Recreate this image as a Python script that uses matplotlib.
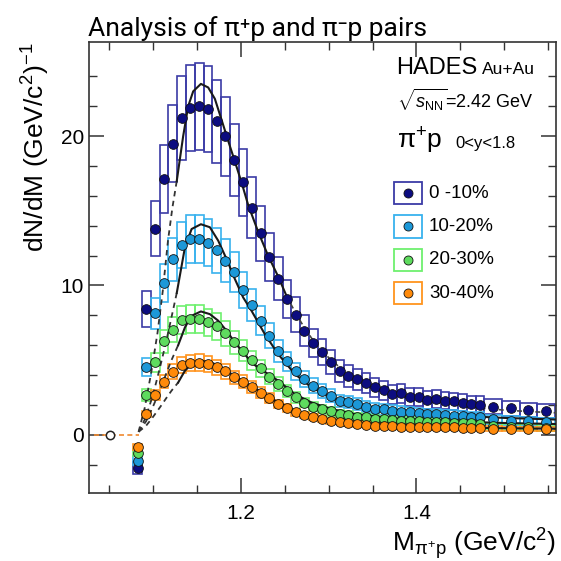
import numpy as np
import matplotlib
matplotlib.use("Agg")
import matplotlib.pyplot as plt
from matplotlib.patches import Rectangle

plt.rcParams['font.family'] = ['Liberation Sans', 'DejaVu Sans']
plt.rcParams['mathtext.fontset'] = 'custom'
plt.rcParams['mathtext.rm'] = 'Liberation Sans'
plt.rcParams['mathtext.it'] = 'Liberation Sans:italic'
plt.rcParams['mathtext.bf'] = 'Liberation Sans:bold'

# bin centres (GeV/c^2): 0.01 wide bins, then four 0.02 wide bins
mass = list(np.round(np.arange(1.0825, 1.4726, 0.01), 4)) + [1.4875, 1.5075, 1.5275, 1.5475]
width = [0.01] * 40 + [0.02] * 4

centrality = ['0 -10%', '10-20%', '20-30%', '30-40%']

dn_0_10 = [-2.2, 8.4, 13.8, 17.1, 19.5, 21.2, 21.9, 22.0, 21.8, 21.0,
           20.0, 18.4, 16.9, 15.2, 13.5, 11.9, 10.45, 9.1, 8.04, 6.97,
           6.14, 5.56, 4.89, 4.29, 3.95, 3.73, 3.44, 3.17, 2.97, 2.70,
           2.77, 2.55, 2.50, 2.32, 2.39, 2.28, 2.23, 2.16, 2.05, 2.01,
           1.88, 1.79, 1.67, 1.61]
dn_10_20 = [-1.75, 4.55, 8.13, 10.18, 11.77, 12.7, 13.1, 13.13, 12.86, 12.37,
            11.65, 10.87, 9.71, 8.7, 7.64, 6.63, 5.63, 4.91, 4.24, 3.73,
            3.28, 2.95, 2.61, 2.28, 2.21, 2.05, 1.88, 1.74, 1.70, 1.61,
            1.55, 1.50, 1.45, 1.40, 1.36, 1.33, 1.29, 1.25, 1.21, 1.17,
            1.05, 0.95, 0.89, 0.83]
dn_20_30 = [-1.2, 2.66, 4.85, 6.27, 7.05, 7.68, 7.75, 7.75, 7.52, 7.28,
            6.81, 6.21, 5.63, 5.0, 4.44, 3.88, 3.39, 2.95, 2.50, 2.16,
            1.88, 1.72, 1.56, 1.38, 1.32, 1.21, 1.16, 1.07, 1.05, 0.98,
            0.95, 0.93, 0.90, 0.88, 0.85, 0.83, 0.80, 0.78, 0.76, 0.74,
            0.62, 0.55, 0.50, 0.45]
dn_30_40 = [-0.8, 1.38, 2.66, 3.55, 4.22, 4.69, 4.82, 4.84, 4.73, 4.51,
            4.24, 3.84, 3.55, 3.21, 2.83, 2.46, 2.05, 1.79, 1.50, 1.34,
            1.16, 1.05, 0.94, 0.87, 0.76, 0.72, 0.67, 0.62, 0.60, 0.56,
            0.55, 0.54, 0.53, 0.52, 0.51, 0.50, 0.49, 0.48, 0.47, 0.46,
            0.42, 0.40, 0.38, 0.37]

# systematic uncertainty (half height of the boxes)
sys_0_10 = [0.4, 1.2, 1.86, 2.28, 2.59, 2.8, 2.89, 2.9, 2.88, 2.78,
            2.65, 2.44, 2.26, 2.04, 1.83, 1.63, 1.45, 1.28, 1.16, 1.04,
            0.94, 0.88, 0.81, 0.75, 0.72, 0.70, 0.67, 0.65, 0.63, 0.61,
            0.62, 0.6, 0.6, 0.58, 0.59, 0.58, 0.58, 0.57, 0.57, 0.56,
            0.5, 0.5, 0.48, 0.48]
sys_10_20 = [0.3, 0.62, 1.02, 1.26, 1.44, 1.55, 1.6, 1.6, 1.57, 1.51,
             1.43, 1.34, 1.2, 1.09, 0.97, 0.85, 0.74, 0.66, 0.59, 0.54,
             0.5, 0.46, 0.43, 0.41, 0.4, 0.39, 0.38, 0.37, 0.36, 0.36,
             0.35, 0.35, 0.35, 0.35, 0.34, 0.34, 0.34, 0.33, 0.33, 0.33,
             0.3, 0.3, 0.3, 0.3]
sys_20_30 = [0.25, 0.38, 0.62, 0.78, 0.87, 0.94, 0.95, 0.95, 0.92, 0.9,
             0.84, 0.77, 0.7, 0.63, 0.57, 0.51, 0.46, 0.41, 0.36, 0.33,
             0.3, 0.29, 0.27, 0.26, 0.26, 0.25, 0.25, 0.24, 0.24, 0.23,
             0.23, 0.23, 0.23, 0.23, 0.23, 0.23, 0.23, 0.23, 0.23, 0.23,
             0.2, 0.2, 0.2, 0.2]
sys_30_40 = [0.2, 0.21, 0.33, 0.42, 0.49, 0.54, 0.55, 0.55, 0.54, 0.52,
             0.49, 0.45, 0.42, 0.39, 0.35, 0.32, 0.28, 0.25, 0.23, 0.21,
             0.2, 0.2, 0.19, 0.18, 0.17, 0.17, 0.17, 0.17, 0.17, 0.16,
             0.16, 0.16, 0.16, 0.16, 0.16, 0.16, 0.16, 0.16, 0.16, 0.16,
             0.15, 0.15, 0.15, 0.15]

# fit curves: dashed part below the fit range, solid part
fit_0_10_low_m = [1.0835, 1.0905, 1.098, 1.105, 1.111, 1.117, 1.122, 1.127]
fit_0_10_low_y = [0.2, 1.8, 4.2, 6.8, 9.6, 13.0, 15.2, 17.0]
fit_0_10_m = [1.127, 1.1343, 1.14, 1.1457, 1.1545, 1.1628, 1.1704, 1.178, 1.1855,
              1.1932, 1.2008, 1.2083, 1.2197, 1.231, 1.2425, 1.252]
fit_0_10_y = [17.0, 20.0, 22.0, 23.0, 23.5, 23.26, 22.5, 21.1, 19.7,
              18.3, 16.9, 15.4, 13.6, 12.0, 10.6, 9.3]
fit_0_10_high_m = [1.252, 1.262, 1.272, 1.282, 1.292, 1.302, 1.312, 1.322, 1.332, 1.342,
                   1.352, 1.362, 1.372, 1.392, 1.412, 1.432, 1.452, 1.472, 1.5, 1.53, 1.559]
fit_0_10_high_y = [9.3, 8.2, 7.2, 6.35, 5.65, 5.05, 4.55, 4.1, 3.75, 3.45,
                   3.2, 2.98, 2.8, 2.5, 2.25, 2.07, 1.92, 1.8, 1.65, 1.55, 1.47]

fit_10_20_low_m = [1.0835, 1.092, 1.100, 1.107, 1.114, 1.120, 1.127]
fit_10_20_low_y = [0.2, 1.2, 2.7, 4.3, 6.0, 7.6, 9.5]
fit_10_20_m = [1.127, 1.1363, 1.1439, 1.1545, 1.1647, 1.1742, 1.1837, 1.1932, 1.2026,
               1.2122, 1.2273, 1.2425, 1.2615, 1.2805, 1.3032, 1.3298, 1.3753,
               1.42, 1.46, 1.50, 1.559]
fit_10_20_y = [9.5, 12.55, 13.78, 14.1, 13.9, 13.0, 11.77, 10.43, 9.2,
               8.3, 6.74, 5.4, 4.07, 3.17, 2.5, 2.05, 1.61,
               1.38, 1.24, 1.13, 1.02]

fit_20_30_low_m = [1.0835, 1.092, 1.100, 1.108, 1.115, 1.121, 1.1286]
fit_20_30_low_y = [0.2, 0.9, 1.9, 3.0, 4.1, 5.0, 6.0]
fit_20_30_m = [1.1286, 1.1363, 1.1439, 1.1545, 1.1647, 1.1742, 1.1837, 1.1932, 1.2026,
               1.214, 1.2425, 1.2615, 1.2805, 1.3032, 1.33, 1.375,
               1.42, 1.46, 1.50, 1.559]
fit_20_30_y = [6.0, 7.19, 7.97, 8.26, 8.08, 7.64, 6.97, 6.18, 5.51,
               4.74, 3.62, 2.72, 2.16, 1.72, 1.38, 1.09,
               0.95, 0.86, 0.79, 0.72]

fit_30_40_low_m = [1.0835, 1.092, 1.100, 1.108, 1.115, 1.121, 1.1286]
fit_30_40_low_y = [0.2, 0.6, 1.2, 1.85, 2.45, 2.95, 3.5]
fit_30_40_m = [1.1286, 1.1363, 1.1439, 1.1545, 1.1666, 1.178, 1.1894, 1.2045,
               1.216, 1.2425, 1.2615, 1.2805, 1.3032, 1.33, 1.375,
               1.42, 1.46, 1.50, 1.559]
fit_30_40_y = [3.5, 4.29, 4.73, 4.96, 4.84, 4.51, 4.07, 3.5,
               3.13, 2.16, 1.61, 1.27, 0.98, 0.76, 0.6,
               0.52, 0.47, 0.44, 0.4]

# below threshold: zero line and an open marker
below_m = [1.033, 1.0835]
below_y = [0.0, 0.0]
open_m = [1.051]
open_y = [0.0]

marker_colors = ['#0c0c80', '#1c98d8', '#5edb5e', '#ff8a0a']
box_colors = ['#3b3ba6', '#38b2ee', '#6ef06e', '#ff941e']

values = [dn_0_10, dn_10_20, dn_20_30, dn_30_40]
syst = [sys_0_10, sys_10_20, sys_20_30, sys_30_40]
fits = [(fit_0_10_low_m, fit_0_10_low_y, fit_0_10_m, fit_0_10_y),
        (fit_10_20_low_m, fit_10_20_low_y, fit_10_20_m, fit_10_20_y),
        (fit_20_30_low_m, fit_20_30_low_y, fit_20_30_m, fit_20_30_y),
        (fit_30_40_low_m, fit_30_40_low_y, fit_30_40_m, fit_30_40_y)]

fig = plt.figure(figsize=(5.61, 5.61), dpi=100)
ax = fig.add_axes([0.1586, 0.1212, 0.8325, 0.8038])

# systematic boxes
for y, e, bc in zip(values, syst, box_colors):
    y = np.array(y)
    e = np.array(e)
    ax.bar(mass, 2 * e, bottom=y - e, width=width, fill=False,
           edgecolor=bc, linewidth=1.2, zorder=2)

# fits
ax.plot(below_m, below_y, color='#f08a30', lw=1.2, ls=(0, (3, 2)), zorder=3)
for lm, ly, m, f in fits:
    ax.plot(lm, ly, color='#333333', lw=1.3, ls=(0, (3, 2.5)), zorder=3)
    ax.plot(m, f, color='#1a1a1a', lw=1.5, zorder=3)
ax.plot(fit_0_10_high_m, fit_0_10_high_y, color='#444444', lw=1.2,
        ls=(0, (3, 2.5)), zorder=3)
ax.plot(open_m, open_y, 'o', mfc='white', mec='#222222', ms=6, mew=1.1, zorder=4)

# data points
for y, mc in zip(values, marker_colors):
    ax.plot(mass, y, 'o', color=mc, mec='#111111', mew=0.6, ms=7, zorder=5)

ax.set_xlim(1.027, 1.559)
ax.set_ylim(-3.9, 26.3)
ax.set_xticks([1.2, 1.4])
ax.set_xticks(np.arange(1.05, 1.56, 0.05), minor=True)
ax.set_yticks([0, 10, 20])
ax.set_yticks(np.arange(-2, 26, 2), minor=True)
ax.tick_params(which='both', direction='in', top=True, right=True,
               labelsize=15, color='#333333')
ax.tick_params(which='major', length=11, width=1.1)
ax.tick_params(which='minor', length=6, width=1.0)
ax.tick_params(axis='x', pad=8)
for s in ax.spines.values():
    s.set_linewidth(1.2)
    s.set_color('#333333')

ax.set_ylabel(r'dN/dM (GeV/c$^{2}$)$^{-1}$', fontsize=19, loc='top', labelpad=6)
ax.set_xlabel(r'M$_{\mathrm{π^{+}p}}$ (GeV/c$^{2}$)', fontsize=19, loc='right', labelpad=2)

# annotations
ax.text(0.658, 0.93, 'HADES', transform=ax.transAxes, fontsize=17)
ax.text(0.842, 0.93, 'Au+Au', transform=ax.transAxes, fontsize=12.5)
ax.text(0.66, 0.854, r'$\sqrt{s_{\mathrm{NN}}}$=2.42 GeV', transform=ax.transAxes, fontsize=13)
ax.text(0.66, 0.765, r'π$^{+}$p', transform=ax.transAxes, fontsize=19)
ax.text(0.785, 0.765, '0<y<1.8', transform=ax.transAxes, fontsize=12)

for i, (lab, mc, bc) in enumerate(zip(centrality, marker_colors, box_colors)):
    yc = 0.665 - i * 0.0739
    ax.add_patch(Rectangle((0.653, yc - 0.0245), 0.06, 0.049, transform=ax.transAxes,
                           fill=False, edgecolor=bc, lw=1.3, zorder=6))
    ax.plot([0.683], [yc], 'o', color=mc, mec='#111111', mew=0.6, ms=6.5,
            transform=ax.transAxes, zorder=7)
    ax.text(0.728, yc, lab, transform=ax.transAxes, fontsize=13.5, va='center')

fig.text(0.157, 0.935, 'Analysis of π⁺p and π⁻p pairs', fontsize=19,
         family=['Roboto', 'DejaVu Sans'])

fig.savefig('out.png', dpi=100)
